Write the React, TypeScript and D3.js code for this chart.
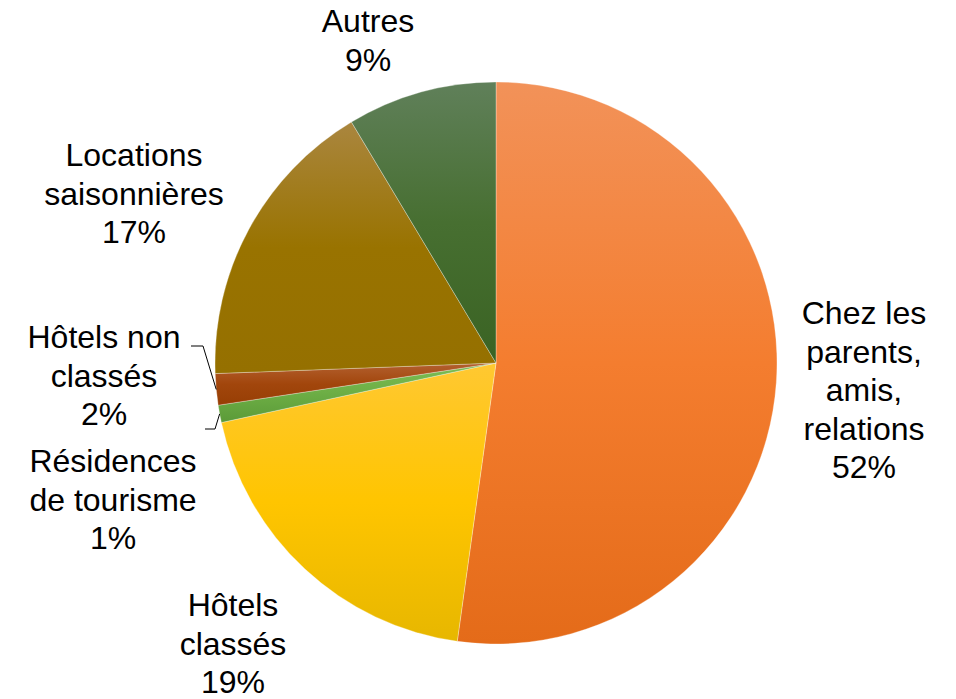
import React from "react";
import * as d3 from "d3";

const categories = [
  "Chez les parents, amis, relations",
  "Hôtels classés",
  "Résidences de tourisme",
  "Hôtels non classés",
  "Locations saisonnières",
  "Autres",
];
const values = [52.2, 19.4, 1.0, 1.8, 17.0, 8.6];
const labelLines = [
  ["Chez les", "parents,", "amis,", "relations", "52%"],
  ["Hôtels", "classés", "19%"],
  ["Résidences", "de tourisme", "1%"],
  ["Hôtels non", "classés", "2%"],
  ["Locations", "saisonnières", "17%"],
  ["Autres", "9%"],
];
const gradientStops = [
  ["#F29259", "#F47D2F", "#E46B19"],
  ["#FFC832", "#FFC500", "#E7B700"],
  ["#7DBE55", "#6DAE45", "#5B9A38"],
  ["#B3602F", "#A2460C", "#973E04"],
  ["#AA863F", "#997300", "#957000"],
  ["#60805A", "#476F31", "#3A6323"],
];

// layout
const W = 956;
const H = 699;
const cx = 496;
const cy = 363;
const R = 281;
const fontSize = 32;
const lineH = 38.5;
const labelAnchor = [
  { x: 864, y: 324 },
  { x: 233, y: 616 },
  { x: 113, y: 472 },
  { x: 104, y: 348 },
  { x: 134, y: 166 },
  { x: 368, y: 32 },
];
const leaders: Record<number, { x0: number; x1: number; y: number }> = {
  2: { x0: 205, x1: 215, y: 429 },
  3: { x0: 191, x1: 203, y: 346 },
};

export default function App() {
  const pie = d3.pie<number>().sort(null).value((d) => d);
  const arcs = pie(values);
  const arc = d3.arc<d3.PieArcDatum<number>>().innerRadius(0).outerRadius(R);

  return (
    <svg width={W} height={H} style={{ position: "absolute", left: 0, top: 0 }}>
      <defs>
        {gradientStops.map((s, i) => (
          <linearGradient key={i} id={`g${i}`} x1="0" y1="0" x2="0" y2="1">
            <stop offset="0" stopColor={s[0]} />
            <stop offset="0.5" stopColor={s[1]} />
            <stop offset="1" stopColor={s[2]} />
          </linearGradient>
        ))}
      </defs>
      <rect width={W} height={H} fill="#fff" />
      <g transform={`translate(${cx},${cy})`}>
        {arcs.map((a, i) => (
          <path
            key={categories[i]}
            d={arc(a) || ""}
            fill={`url(#g${i})`}
            stroke="#ffffff"
            strokeOpacity={0.4}
            strokeWidth={0.75}
          />
        ))}
      </g>
      {arcs.map((a, i) => {
        const ld = leaders[i];
        if (!ld) return null;
        const mid = (a.startAngle + a.endAngle) / 2;
        const px = cx + R * Math.sin(mid);
        const py = cy - R * Math.cos(mid);
        return (
          <polyline
            key={"l" + i}
            points={`${ld.x0},${ld.y} ${ld.x1},${ld.y} ${px},${py}`}
            fill="none"
            stroke="#000"
            strokeWidth={1}
          />
        );
      })}
      {labelLines.map((lines, i) => (
        <text
          key={"t" + i}
          x={labelAnchor[i].x}
          y={labelAnchor[i].y}
          textAnchor="middle"
          fontFamily="'Liberation Sans', Arial, sans-serif"
          fontSize={fontSize}
          fill="#000"
        >
          {lines.map((ln, j) => (
            <tspan key={j} x={labelAnchor[i].x} y={labelAnchor[i].y + j * lineH}>
              {ln}
            </tspan>
          ))}
        </text>
      ))}
    </svg>
  );
}
